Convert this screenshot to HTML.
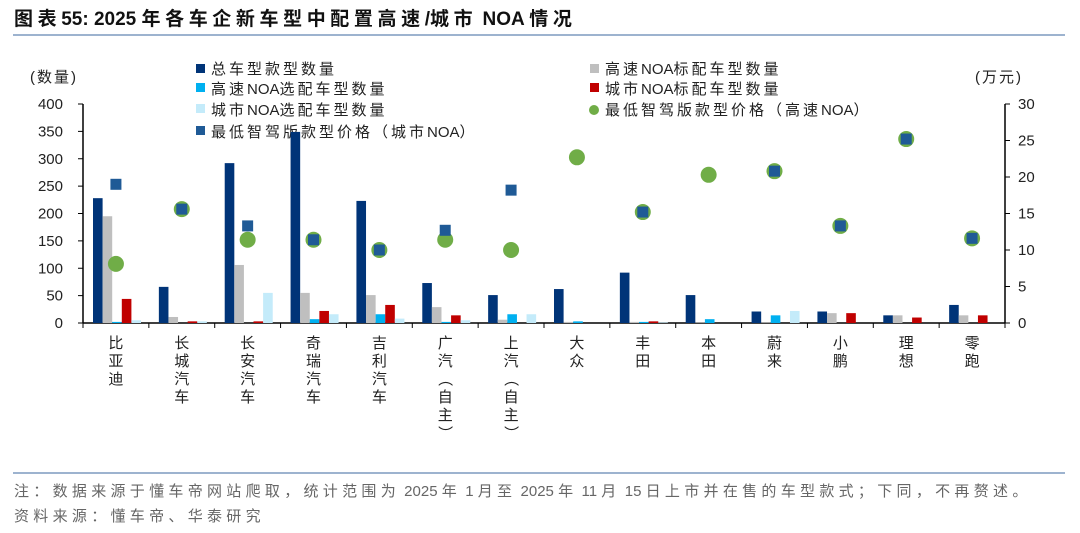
<!DOCTYPE html>
<html><head><meta charset="utf-8"><style>
html,body{margin:0;padding:0;background:#fff;}
svg{display:block;font-family:"Liberation Sans","Noto Sans CJK SC",sans-serif;}
.l{letter-spacing:0}
</style></head><body>
<svg id="chart" width="1080" height="533" viewBox="0 0 1080 533">
<text x="14" y="25" font-size="19" font-weight="bold" fill="#111" letter-spacing="4.6">图表<tspan class="l">55:  2025 </tspan>年各车企新车型中配置高速<tspan class="l">/</tspan>城市<tspan class="l"> NOA </tspan>情况</text>
<line x1="13" y1="35" x2="1065" y2="35" stroke="#9db3cf" stroke-width="2"/>
<text x="30" y="82" font-size="15" fill="#222" letter-spacing="2">(数量)</text>
<text x="975" y="82" font-size="15" fill="#222" letter-spacing="2">(万元)</text>
<g id="legend" font-size="15" fill="#222" letter-spacing="3">
<g><rect x="196" y="64" width="9" height="9" fill="#003478"/><text x="211" y="74">总车型款型数量</text></g>
<g><rect x="196" y="83" width="9" height="9" fill="#00b0f0"/><text x="211" y="94">高速<tspan class="l">NOA</tspan>选配车型数量</text></g>
<g><rect x="196" y="104" width="9" height="9" fill="#c4ebfa"/><text x="211" y="115">城市<tspan class="l">NOA</tspan>选配车型数量</text></g>
<g><rect x="196" y="126" width="9" height="9" fill="#1f5a96"/><text x="211" y="137">最低智驾版款型价格（城市<tspan class="l">NOA</tspan>）</text></g>
<g><rect x="590" y="64" width="9" height="9" fill="#bfbfbf"/><text x="605" y="74">高速<tspan class="l">NOA</tspan>标配车型数量</text></g>
<g><rect x="590" y="83" width="9" height="9" fill="#c00000"/><text x="605" y="94">城市<tspan class="l">NOA</tspan>标配车型数量</text></g>
<g><circle cx="594" cy="110" r="5" fill="#70ad47"/><text x="605" y="115">最低智驾版款型价格（高速<tspan class="l">NOA</tspan>）</text></g>
</g>
<g id="plot"></g>
<line x1="13" y1="473" x2="1065" y2="473" stroke="#9db3cf" stroke-width="2"/>
<text x="14" y="496" font-size="15" fill="#666" letter-spacing="4.3">注：数据来源于懂车帝网站爬取，统计范围为<tspan class="l"> 2025 </tspan>年<tspan class="l"> 1 </tspan>月至<tspan class="l"> 2025 </tspan>年<tspan class="l"> 11 </tspan>月<tspan class="l"> 15 </tspan>日上市并在售的车型款式；下同，不再赘述。</text>
<text x="14" y="521" font-size="15" fill="#666" letter-spacing="4.3">资料来源：懂车帝、华泰研究</text>
</svg>
<script>
const categories = ["比亚迪","长城汽车","长安汽车","奇瑞汽车","吉利汽车","广汽（自主）","上汽（自主）","大众","丰田","本田","蔚来","小鹏","理想","零跑"];
const totalModels = [228,66,292,349,223,73,51,62,92,51,21,21,14,33];
const highwayStandard = [195,11,106,55,51,29,6,2,2,1,1,18,14,14];
const highwayOptional = [2,0,0,7,16,2,16,3,2,7,14,0,0,0];
const cityStandard = [44,3,3,22,33,14,0,0,3,0,0,18,10,14];
const cityOptional = [5,3,55,16,8,5,16,0,1,0,22,0,0,0];
const highwayPrice = [8.1,15.6,11.4,11.4,10,11.4,10,22.7,15.2,20.3,20.8,13.3,25.2,11.6];
const cityPrice = [19,15.6,13.3,11.4,10,12.7,18.2,null,15.2,null,20.8,13.3,25.2,11.6];
const leftTicks = [0,50,100,150,200,250,300,350,400];
const rightTicks = [0,5,10,15,20,25,30];
</script>
<script>
(function(){
const NS="http://www.w3.org/2000/svg";
const g=document.getElementById('plot');
const X0=83,X1=1005,Y0=323,Y1=104;
const n=categories.length, bw=(X1-X0)/n;
const yL=v=>Y0-(v/400)*(Y0-Y1);
const yR=v=>Y0-(v/30)*(Y0-Y1);
function mk(t,a){const e=document.createElementNS(NS,t);for(const k in a)e.setAttribute(k,a[k]);g.appendChild(e);return e;}
let e;
e=mk('line',{x1:X0,y1:Y1,x2:X0,y2:Y0,stroke:'#000','stroke-width':1.5});


e=mk('line',{x1:X1,y1:Y1,x2:X1,y2:Y0,stroke:'#000','stroke-width':1.5});


e=mk('line',{x1:X0,y1:Y0,x2:X1,y2:Y0,stroke:'#000','stroke-width':1.5});


leftTicks.forEach(v=>{
  mk('line',{x1:X0-5,y1:yL(v),x2:X0,y2:yL(v),stroke:'#000'});
  e=mk('text',{x:X0-20,y:yL(v)+5,'font-size':15,'text-anchor':'end',fill:'#222'});e.textContent=v;
  
  
});
rightTicks.forEach(v=>{
  mk('line',{x1:X1,y1:yR(v),x2:X1+5,y2:yR(v),stroke:'#000'});
  e=mk('text',{x:X1+13,y:yR(v)+5,'font-size':15,fill:'#222'});e.textContent=v;
  
  
});
for(let i=0;i<=n;i++) mk('line',{x1:X0+i*bw,y1:Y0,x2:X0+i*bw,y2:Y0+5,stroke:'#000'});
const series=[[totalModels,'#003478','bar-total'],[highwayStandard,'#bfbfbf','bar-highway-standard'],[highwayOptional,'#00b0f0','bar-highway-optional'],[cityStandard,'#c00000','bar-city-standard'],[cityOptional,'#c4ebfa','bar-city-optional']];
const w=9.6;
categories.forEach((c,i)=>{
  const gx=X0+i*bw+10;
  series.forEach((s,j)=>{
    const v=s[0][i]; if(!v) return;
    e=mk('rect',{x:gx+j*w,y:yL(v),width:w,height:Y0-yL(v),fill:s[1]});
    
    
  });
  const cx=X0+(i+0.5)*bw;
  if(highwayPrice[i]!=null){
    e=mk('circle',{cx:cx,cy:yR(highwayPrice[i]),r:8,fill:'#70ad47'});
    
    
  }
  if(cityPrice[i]!=null){
    e=mk('rect',{x:cx-5.5,y:yR(cityPrice[i])-5.5,width:11,height:11,fill:'#1f5a96'});
    
    
  }
  const chars=[...c];
  chars.forEach((ch,k)=>{
    e=mk('text',{x:cx,y:348+k*18,'font-size':15,'text-anchor':'middle',fill:'#222'});
    if(ch==='（'||ch==='）'){e.setAttribute('transform','rotate(90 '+cx+' '+(343+k*18)+')');e.setAttribute('y',348+k*18);}
    e.textContent=ch;
    
    
  });
});
})();
</script>
</body></html>
